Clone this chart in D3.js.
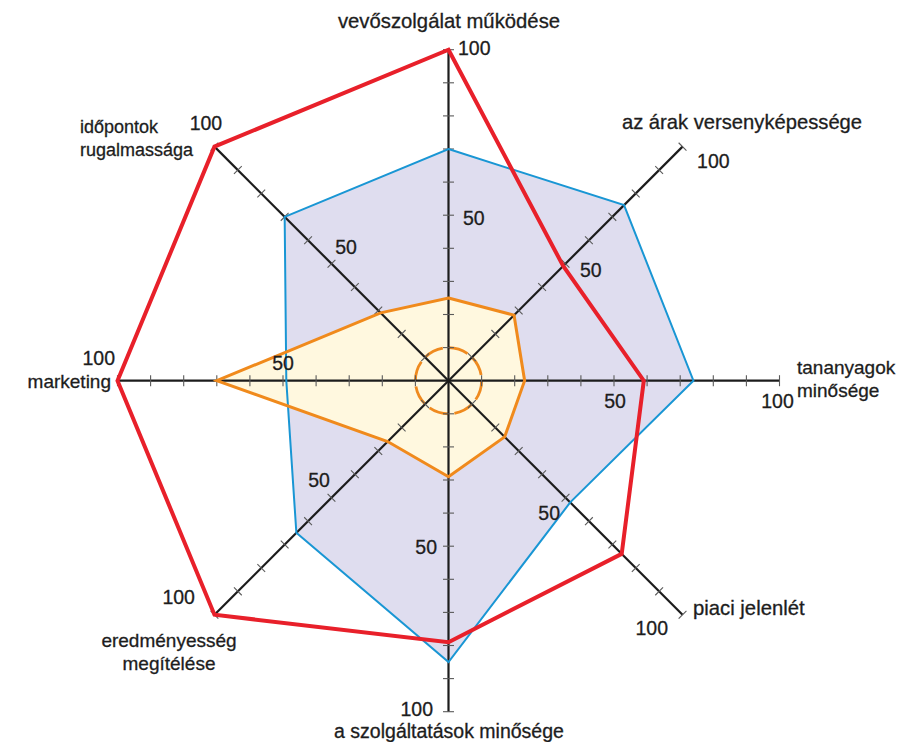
<!DOCTYPE html>
<html>
<head>
<meta charset="utf-8">
<script src="https://cdn.jsdelivr.net/npm/d3@7/dist/d3.min.js"></script>
<style>
  html, body { margin: 0; padding: 0; background: #ffffff; }
  svg { display: block; }
  text { font-family: "Liberation Sans", Arial, Helvetica, sans-serif; fill: #1d1d1d; stroke: #1d1d1d; stroke-width: 0.3; }
</style>
</head>
<body>
<svg id="chart" width="903" height="742"></svg>
<script>
// Axis categories, clockwise from the top
const categories = [
  "vevőszolgálat működése",
  "az árak versenyképessége",
  "tananyagok minősége",
  "piaci jelenlét",
  "a szolgáltatások minősége",
  "eredményesség megítélése",
  "marketing",
  "időpontok rugalmassága"
];
// Series values (0–100)
const redValues    = [100, 49, 59, 74, 79, 100, 100, 100];
const blueValues   = [70, 75, 74, 52, 85, 65, 49, 70];
const orangeValues = [25, 28, 23, 24, 29, 26, 70, 29];
const innerRingValue = 10;
// Tick marks and labelled values on every axis
const tickValues = [10, 20, 30, 40, 50, 60, 70, 80, 90, 100];
const tickLabels = [50, 100];

// Layout
const cx = 448.5, cy = 380.7, R = 331;
const r = d3.scaleLinear().domain([0, 100]).range([0, R]);
const angle = d3.scaleLinear().domain([0, categories.length]).range([0, 2 * Math.PI]);
const pt = (i, v) => [cx + r(v) * Math.sin(angle(i)), cy - r(v) * Math.cos(angle(i))];

// Category label placement: lines, anchor, position and size
const catLayout = [
  { lines: ["vevőszolgálat működése"], anchor: "middle", x: 449, y: 28, size: 20.3 },
  { lines: ["az árak versenyképessége"], anchor: "middle", x: 742, y: 129, size: 20.2 },
  { lines: ["tananyagok", "minősége"], anchor: "start", x: 797, y: 374, size: 19 },
  { lines: ["piaci jelenlét"], anchor: "start", x: 693, y: 615, size: 20.3 },
  { lines: ["a szolgáltatások minősége"], anchor: "middle", x: 449, y: 738, size: 19.5 },
  { lines: ["eredményesség", "megítélése"], anchor: "middle", x: 169, y: 647, size: 19 },
  { lines: ["marketing"], anchor: "end", x: 111, y: 388, size: 19 },
  { lines: ["időpontok", "rugalmassága"], anchor: "start", x: 80, y: 133, size: 18 }
];
// Offsets of the "50" / "100" labels from their axis points
const numLayout = [
  [{ a: "start", dx: 14.5, dy: 9.8 },  { a: "start", dx: 9.5, dy: 5.3 }],
  [{ a: "start", dx: 14.5, dy: 13.3 }, { a: "start", dx: 14.5, dy: 21.3 }],
  [{ a: "middle", dx: 1, dy: 27 },     { a: "middle", dx: -2, dy: 27 }],
  [{ a: "end", dx: -5.5, dy: 22 },     { a: "end", dx: -14.5, dy: 20 }],
  [{ a: "end", dx: -11.5, dy: 8 },     { a: "end", dx: -15.5, dy: 4 }],
  [{ a: "end", dx: -1.5, dy: -10.7 },  { a: "end", dx: -19.5, dy: -10.7 }],
  [{ a: "middle", dx: 0, dy: -10.7 },  { a: "end", dx: -2.5, dy: -15.7 }],
  [{ a: "end", dx: 25.5, dy: -9.7 },   { a: "middle", dx: -8.5, dy: -16.7 }]
];

const svg = d3.select("#chart");
const line = d3.line().curve(d3.curveLinearClosed);
const poly = vals => line(vals.map((v, i) => pt(i, v)));

// Filled areas
svg.append("path").attr("d", poly(blueValues))
  .attr("fill", "#dfddef").attr("stroke", "none");
svg.append("path").attr("d", poly(orangeValues))
  .attr("fill", "#fff8df").attr("stroke", "none");

// Inner dashed ring
svg.append("circle").attr("cx", cx).attr("cy", cy).attr("r", r(innerRingValue))
  .attr("fill", "none").attr("stroke", "#ef8a1f").attr("stroke-width", 2.8)
  .attr("stroke-dasharray", "20,6");

// Axes with tick marks
const axes = svg.append("g");
categories.forEach((c, i) => {
  const [x2, y2] = pt(i, 100);
  axes.append("line").attr("x1", cx).attr("y1", cy).attr("x2", x2).attr("y2", y2)
    .attr("stroke", "#1c1c1c").attr("stroke-width", 2.2);
  const a = angle(i);
  const px = Math.cos(a), py = Math.sin(a);
  tickValues.forEach(t => {
    const [tx, ty] = pt(i, t);
    axes.append("line")
      .attr("x1", tx - px * 5.5).attr("y1", ty - py * 5.5)
      .attr("x2", tx + px * 5.5).attr("y2", ty + py * 5.5)
      .attr("stroke", "#5a5a5a").attr("stroke-width", 1.1);
  });
});

// Series outlines
svg.append("path").attr("d", poly(blueValues))
  .attr("fill", "none").attr("stroke", "#1996d4").attr("stroke-width", 2)
  .attr("stroke-linejoin", "miter");
svg.append("path").attr("d", poly(orangeValues))
  .attr("fill", "none").attr("stroke", "#f08a1c").attr("stroke-width", 3)
  .attr("stroke-linejoin", "miter");
svg.append("path").attr("d", poly(redValues))
  .attr("fill", "none").attr("stroke", "#e8202a").attr("stroke-width", 4)
  .attr("stroke-linejoin", "miter");

// Value labels on the axes
categories.forEach((c, i) => {
  tickLabels.forEach((v, k) => {
    const [x, y] = pt(i, v);
    const L = numLayout[i][k];
    svg.append("text").attr("x", x + L.dx).attr("y", y + L.dy)
      .attr("text-anchor", L.a).attr("font-size", 19.5).text(v);
  });
});

// Category labels
catLayout.forEach(L => {
  const t = svg.append("text").attr("text-anchor", L.anchor).attr("font-size", L.size);
  L.lines.forEach((s, j) => {
    t.append("tspan").attr("x", L.x).attr("y", L.y + j * 22.5).text(s);
  });
});
</script>
</body>
</html>
